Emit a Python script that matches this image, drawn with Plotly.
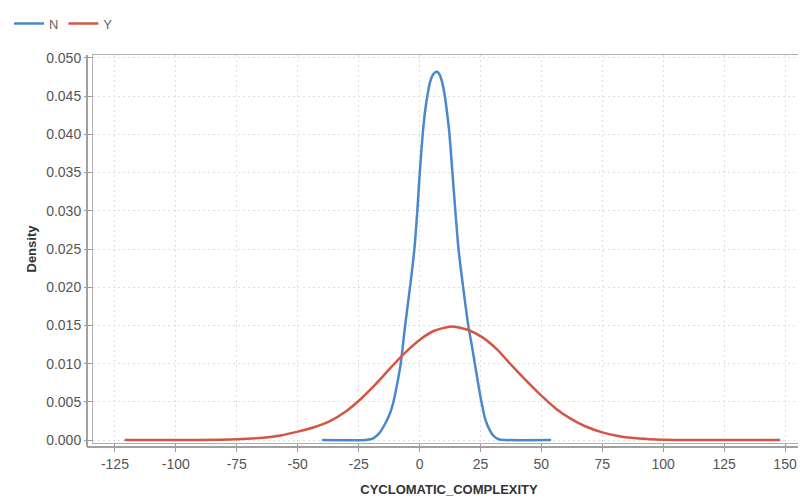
import plotly.graph_objects as go

# ---- data ----
series_names = ["N", "Y"]

n_x = [-40, -22, -19, -16.5, -14, -12, -10.7, -9.2, -7.7, -5.9, -3.9, -2.1, -0.9, 0.1, 1.3, 2.2, 3.3, 4.3, 5.3,
       6.3, 7.3, 8.3, 9.3, 10.4, 11.4, 12.3, 13.5, 14.7, 16.0, 17.9, 20.0, 21.4, 22.7, 24.0, 25.4, 27.0, 28.8,
       30.5, 32.5, 35, 54]
n_y = [0, 0, 0.0002, 0.0009, 0.0022, 0.0036, 0.005, 0.0073, 0.010, 0.015, 0.020, 0.025, 0.030, 0.035, 0.040,
       0.0428, 0.0452, 0.0468, 0.0477,
       0.0481, 0.0482, 0.0478, 0.0468, 0.045, 0.0426, 0.040, 0.035, 0.030, 0.025, 0.020, 0.015, 0.0125, 0.010,
       0.0075, 0.005, 0.0027, 0.0013, 0.0005, 0.0001, 0, 0]

y_x = [-121, -90, -75, -64, -57, -50, -43, -36.6, -30, -24, -18, -12, -6, 0, 6, 13.2, 20, 26, 32, 38, 44, 50,
       56, 62, 68, 75, 82, 90, 100, 148]
y_y = [0, 0, 0.0001, 0.0003, 0.0006, 0.0011, 0.0017, 0.0025, 0.0038, 0.0054, 0.0073, 0.0094, 0.0114, 0.0131,
       0.0143, 0.01486, 0.0144, 0.0134, 0.0118, 0.0097, 0.0077, 0.0058, 0.0041, 0.0028, 0.0018, 0.0010, 0.0005,
       0.0002, 0.00005, 0]

x_tick_vals = [-125, -100, -75, -50, -25, 0, 25, 50, 75, 100, 125, 150]
x_tick_text = ["-125", "-100", "-75", "-50", "-25", "0", "25", "50", "75", "100", "125", "150"]
y_tick_vals = [0.000, 0.005, 0.010, 0.015, 0.020, 0.025, 0.030, 0.035, 0.040, 0.045, 0.050]
y_tick_text = ["0.000", "0.005", "0.010", "0.015", "0.020", "0.025", "0.030", "0.035", "0.040", "0.045", "0.050"]

x_title = "CYCLOMATIC_COMPLEXITY"
y_title = "Density"

colors = ["#4a88cc", "#d35644"]

fig = go.Figure()
fig.add_trace(go.Scatter(x=n_x, y=n_y, mode="lines", name=series_names[0],
                         line=dict(color=colors[0], width=2.5, shape="spline", smoothing=0.6)))
fig.add_trace(go.Scatter(x=y_x, y=y_y, mode="lines", name=series_names[1],
                         line=dict(color=colors[1], width=2.5, shape="spline", smoothing=0.6)))

font_family = "Liberation Sans, Arial, sans-serif"
grid = "#dedede"

fig.update_layout(
    width=798, height=494,
    margin=dict(l=84, r=1, t=42, b=59),
    paper_bgcolor="white", plot_bgcolor="white",
    font=dict(family=font_family, size=14, color="#555555"),
    showlegend=True,
    legend=dict(orientation="h", x=-0.118, y=1.081, xanchor="left", yanchor="middle",
                font=dict(size=13, color="#666666"), itemwidth=30, tracegroupgap=0,
                bgcolor="rgba(0,0,0,0)"),
    xaxis=dict(range=[-134.0, 158.2], tickmode="array", tickvals=x_tick_vals, ticktext=x_tick_text,
               showgrid=True, gridcolor=grid, griddash="2px,3px", gridwidth=1, zeroline=False,
               showline=True, mirror=True, linecolor="#b0b0b0", linewidth=1,
               ticks="outside", ticklen=8, tickcolor="#999999",
               tickfont=dict(size=14, color="#555555"),
               title=dict(text="<b>" + x_title + "</b>", font=dict(size=13, color="#333333"), standoff=14)),
    yaxis=dict(range=[-0.00039, 0.05039], tickmode="array", tickvals=y_tick_vals, ticktext=y_tick_text,
               showgrid=True, gridcolor=grid, griddash="2px,3px", gridwidth=1, zeroline=False,
               showline=True, mirror=True, linecolor="#b0b0b0", linewidth=1,
               ticks="outside", ticklen=8, tickcolor="#999999",
               tickfont=dict(size=14, color="#555555"),
               title=dict(text="<b>" + y_title + "</b>", font=dict(size=13, color="#333333"), standoff=6)),
)

# offset axis lines (outside the plot frame)
fig.add_shape(type="line", xref="paper", yref="paper", x0=-0.0084, x1=-0.0084, y0=-0.0102, y1=1,
              line=dict(color="#a0a0a0", width=2))
fig.add_shape(type="line", xref="paper", yref="paper", x0=-0.0084, x1=1, y0=-0.0102, y1=-0.0102,
              line=dict(color="#a0a0a0", width=2))

fig.write_html("out.html")
